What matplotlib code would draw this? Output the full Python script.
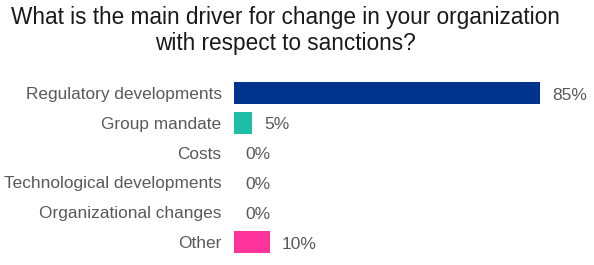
import matplotlib.pyplot as plt

# data
categories = ["Regulatory developments", "Group mandate", "Costs",
              "Technological developments", "Organizational changes", "Other"]
values = [85, 5, 0, 0, 0, 10]
bar_colors = ["#00338D", "#1DBFA6", "#00338D", "#00338D", "#00338D", "#FF3399"]

plt.rcParams['font.family'] = ['Liberation Sans', 'DejaVu Sans']

fig = plt.figure(figsize=(5.94, 2.65), dpi=100)
ax = fig.add_axes([234 / 594, 1 - 257 / 265, 360 / 594, 179 / 265])

pos = list(range(len(categories)))
ax.barh(pos, values, height=0.74, color=bar_colors)
for p, v in zip(pos, values):
    ax.annotate(f"{v}%", xy=(v, p), xytext=(8.5, -1.5), textcoords="offset points",
                va="center", ha="left", fontsize=12.5, color="#595959")

ax.set_xlim(0, 100)
ax.set_ylim(5.5, -0.5)
ax.set_yticks(pos)
ax.set_yticklabels(categories, fontsize=12.4, color="#595959")
ax.tick_params(axis="y", length=0, pad=9)
ax.set_xticks([])
for s in ax.spines.values():
    s.set_visible(False)

fig.text(285 / 594, 1 - 30.5 / 265,
         "What is the main driver for change in your organization\nwith respect to sanctions?",
         ha="center", va="center", fontsize=16.3, color="#1a1a1a", linespacing=1.2)

fig.savefig("out.png", dpi=100)
